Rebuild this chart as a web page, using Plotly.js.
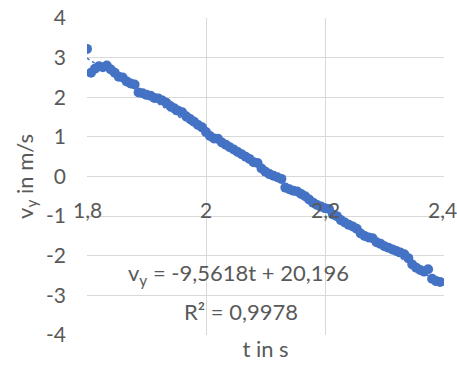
<!DOCTYPE html>
<html>
<head>
<meta charset="utf-8">
<script src="https://cdn.plot.ly/plotly-3.0.1.min.js"></script>
<style>html,body{margin:0;padding:0;background:#fff;}#chart{width:457px;height:365px;}</style>
</head>
<body>
<div id="chart"></div>
<script>
// measurement times (s), sampled every 1/150 s
const t0 = 1.8;
const frameRate = 150;
const vy = [3.22, 2.62, 2.72, 2.78, 2.76, 2.80, 2.70, 2.62, 2.52, 2.50,
            2.40, 2.35, 2.32, 2.12, 2.10, 2.06, 2.04, 1.98, 1.97, 1.92,
            1.86, 1.78, 1.72, 1.66, 1.62, 1.52, 1.45, 1.38, 1.30, 1.24,
            1.12, 1.02, 0.96, 0.95, 0.86, 0.80, 0.74, 0.68, 0.62, 0.56,
            0.50, 0.44, 0.36, 0.34, 0.20, 0.12, 0.06, 0.02, -0.02, -0.06,
            -0.28, -0.32, -0.36, -0.38, -0.44, -0.50, -0.58, -0.66, -0.72, -0.76,
            -0.80, -0.82, -0.96, -1.00, -1.10, -1.16, -1.22, -1.26, -1.32, -1.44,
            -1.50, -1.54, -1.56, -1.66, -1.70, -1.76, -1.80, -1.84, -1.88, -1.92,
            -1.96, -2.06, -2.22, -2.30, -2.36, -2.40, -2.34, -2.58, -2.64, -2.66];
const t = vy.map((_, i) => t0 + i / frameRate);

// linear trendline from the chart's equation
const slope = -9.5618;
const intercept = 20.196;
const trendT = [1.8, 2.4];
const trendV = trendT.map(x => slope * x + intercept);

const xTickVals = [1.8, 2.0, 2.2, 2.4];
const xTickText = ['1,8', '2', '2,2', '2,4'];
const yTickVals = [-4, -3, -2, -1, 0, 1, 2, 3, 4];
const yTickText = ['-4', '-3', '-2', '-1', '0', '1', '2', '3', '4'];

const eqText = 'v<sub>y</sub> = -9,5618t + 20,196';
const r2Text = 'R² = 0,9978';

const blue = '#4472C4';
const grey = '#595959';
const fontFam = 'Lato, "Open Sans", sans-serif';

const data = [
  {x: t, y: vy, type: 'scatter', mode: 'markers',
   marker: {color: blue, size: 10}, hoverinfo: 'none'},
  {x: trendT, y: trendV, type: 'scatter', mode: 'lines',
   line: {color: blue, width: 1.5, dash: 'dot'}, hoverinfo: 'none'}
];

const annotations = xTickVals.map((v, i) => ({
  x: v, y: -0.83, xref: 'x', yref: 'y', text: xTickText[i], showarrow: false,
  xanchor: 'center', yanchor: 'middle', xshift: (i === xTickVals.length - 1) ? -2 : 0,
  font: {family: fontFam, size: 21, color: grey}
}));
annotations.push({x: 0.423, y: -2.47, xref: 'paper', yref: 'y', text: eqText, showarrow: false,
  xanchor: 'center', yanchor: 'middle', font: {family: fontFam, size: 22, color: grey}});
annotations.push({x: 0.431, y: -3.40, xref: 'paper', yref: 'y', text: r2Text, showarrow: false,
  xanchor: 'center', yanchor: 'middle', font: {family: fontFam, size: 22, color: grey}});

const layout = {
  width: 457, height: 365,
  margin: {l: 87, r: 13, t: 18, b: 30},
  paper_bgcolor: '#fff', plot_bgcolor: '#fff',
  showlegend: false,
  font: {family: fontFam, color: grey, size: 21},
  xaxis: {range: [1.8, 2.4], tickvals: xTickVals, showticklabels: false,
          showgrid: true, gridcolor: '#d9d9d9', gridwidth: 1, zeroline: false,
          showline: false, ticks: '',
          title: {text: 't in s', standoff: 6, font: {family: fontFam, size: 22, color: grey}}},
  yaxis: {range: [-4, 4], tickvals: yTickVals, ticktext: yTickText,
          showgrid: true, gridcolor: '#d9d9d9', gridwidth: 1, zeroline: false,
          showline: false, ticks: '', ticklabelstandoff: 20,
          tickfont: {family: fontFam, size: 21, color: grey},
          title: {text: 'v<sub>y</sub> in m/s', standoff: 6, font: {family: fontFam, size: 22, color: grey}}},
  annotations: annotations
};

Plotly.newPlot('chart', data, layout, {staticPlot: true, displayModeBar: false});
</script>
</body>
</html>
